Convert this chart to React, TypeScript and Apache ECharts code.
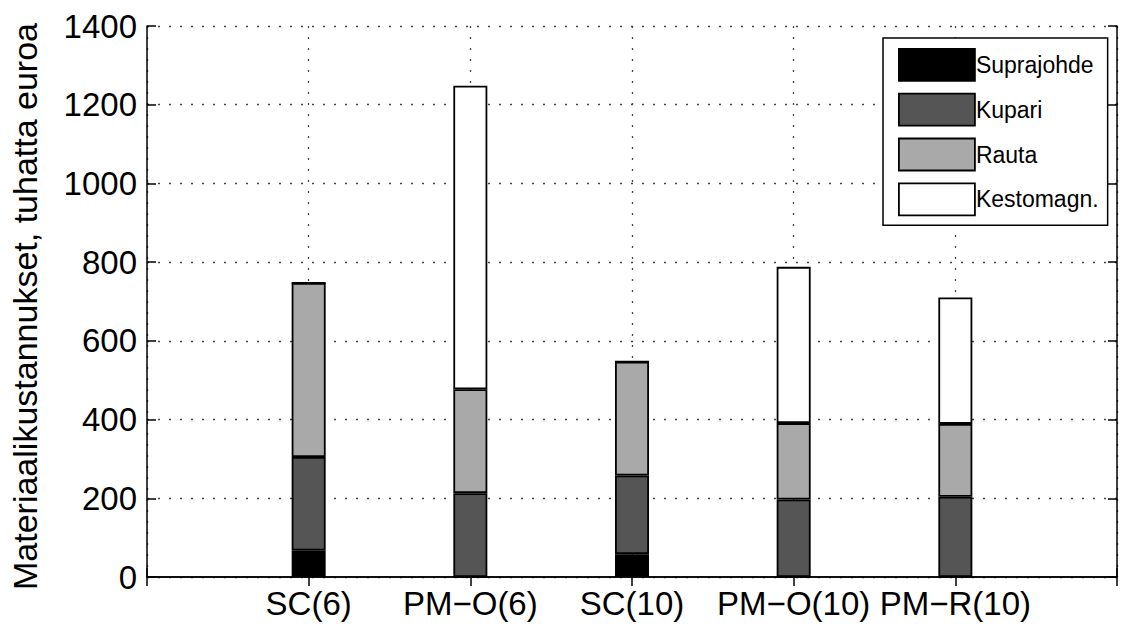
import React, { useEffect, useRef } from "react";
import * as echarts from "echarts";

const categories = ["SC(6)", "PM\u2212O(6)", "SC(10)", "PM\u2212O(10)", "PM\u2212R(10)"];
const seriesNames = ["Suprajohde", "Kupari", "Rauta", "Kestomagn."];
const suprajohde = [67, 0, 58, 0, 0];
const kupari = [238, 213, 200, 197, 204];
const rauta = [442, 264, 289, 194, 185];
const kestomagn = [0, 771, 0, 397, 321];
const yTicks = { min: 0, max: 1400, interval: 200 };
const colors = ["#000000", "#555555", "#a9a9a9", "#ffffff"];

const FONT = "Liberation Sans, Arial, sans-serif";

export default function App() {
  const ref = useRef<HTMLDivElement>(null);
  useEffect(() => {
    if (!ref.current) return;
    const chart = echarts.init(ref.current, null, { renderer: "svg" });
    const axisCats = ["", ...categories, ""];
    const pad = (arr: number[]) => [null, ...arr, null];
    const allData = [suprajohde, kupari, rauta, kestomagn];
    const gridLine = { show: true, lineStyle: { color: "#444", width: 1.3, type: [2, 9] as any } };
    const axisLine = { show: true, lineStyle: { color: "#000", width: 1.5 } };
    chart.setOption({
      animation: false,
      backgroundColor: "#fff",
      textStyle: { fontFamily: FONT },
      grid: { left: 145, right: 4, top: 26, bottom: 49, containLabel: false },
      legend: {
        show: true,
        orient: "vertical",
        left: 883,
        top: 38,
        itemWidth: 76,
        itemHeight: 32,
        itemGap: 11,
        padding: [10, 9, 9, 15],
        backgroundColor: "#fff",
        borderColor: "#000",
        borderWidth: 1.5,
        borderRadius: 0,
        icon: "rect",
        itemStyle: { borderColor: "#000", borderWidth: 1.8 },
        textStyle: { fontSize: 23, color: "#000", fontFamily: FONT, padding: [0, 0, 0, -4] },
        data: seriesNames,
      },
      xAxis: [
        {
          type: "category",
          data: axisCats,
          boundaryGap: false,
          position: "bottom",
          axisLine,
          axisTick: { show: true, inside: true, length: 9, lineStyle: { color: "#000", width: 1.5 } },
          axisLabel: { fontSize: 33, color: "#000", margin: 10, interval: 0, fontFamily: FONT },
          splitLine: { ...gridLine, interval: 0 },
        },
        {
          type: "category",
          data: axisCats,
          boundaryGap: false,
          position: "top",
          axisLine,
          axisTick: { show: true, inside: true, length: 9, lineStyle: { color: "#000", width: 1.5 } },
          axisLabel: { show: false },
          splitLine: { show: false },
        },
      ],
      yAxis: [
        {
          type: "value",
          ...yTicks,
          position: "left",
          name: "Materiaalikustannukset, tuhatta euroa",
          nameLocation: "middle",
          nameGap: 105,
          nameTextStyle: { fontSize: 34, color: "#000", fontFamily: FONT, padding: [0, 10, 0, 0] },
          axisLine,
          axisTick: { show: true, inside: true, length: 9, lineStyle: { color: "#000", width: 1.5 } },
          axisLabel: {
            fontSize: 33,
            color: "#000",
            margin: 10,
            fontFamily: FONT,
            formatter: (v: number) => String(v),
          },
          splitLine: gridLine,
        },
        {
          type: "value",
          ...yTicks,
          position: "right",
          axisLine,
          axisTick: { show: true, inside: true, length: 9, lineStyle: { color: "#000", width: 1.5 } },
          axisLabel: { show: false },
          splitLine: { show: false },
        },
      ],
      series: seriesNames.map((name, i) => ({
        name,
        type: "bar",
        stack: "total",
        xAxisIndex: 0,
        yAxisIndex: 0,
        barWidth: 34,
        data: pad(allData[i]),
        itemStyle: { color: colors[i], borderColor: "#000", borderWidth: 1.8 },
        emphasis: { disabled: true },
      })),
    });
    return () => chart.dispose();
  }, []);
  return (
    <div
      ref={ref}
      style={{ position: "fixed", left: 0, top: 0, width: 1121, height: 626 }}
    />
  );
}
